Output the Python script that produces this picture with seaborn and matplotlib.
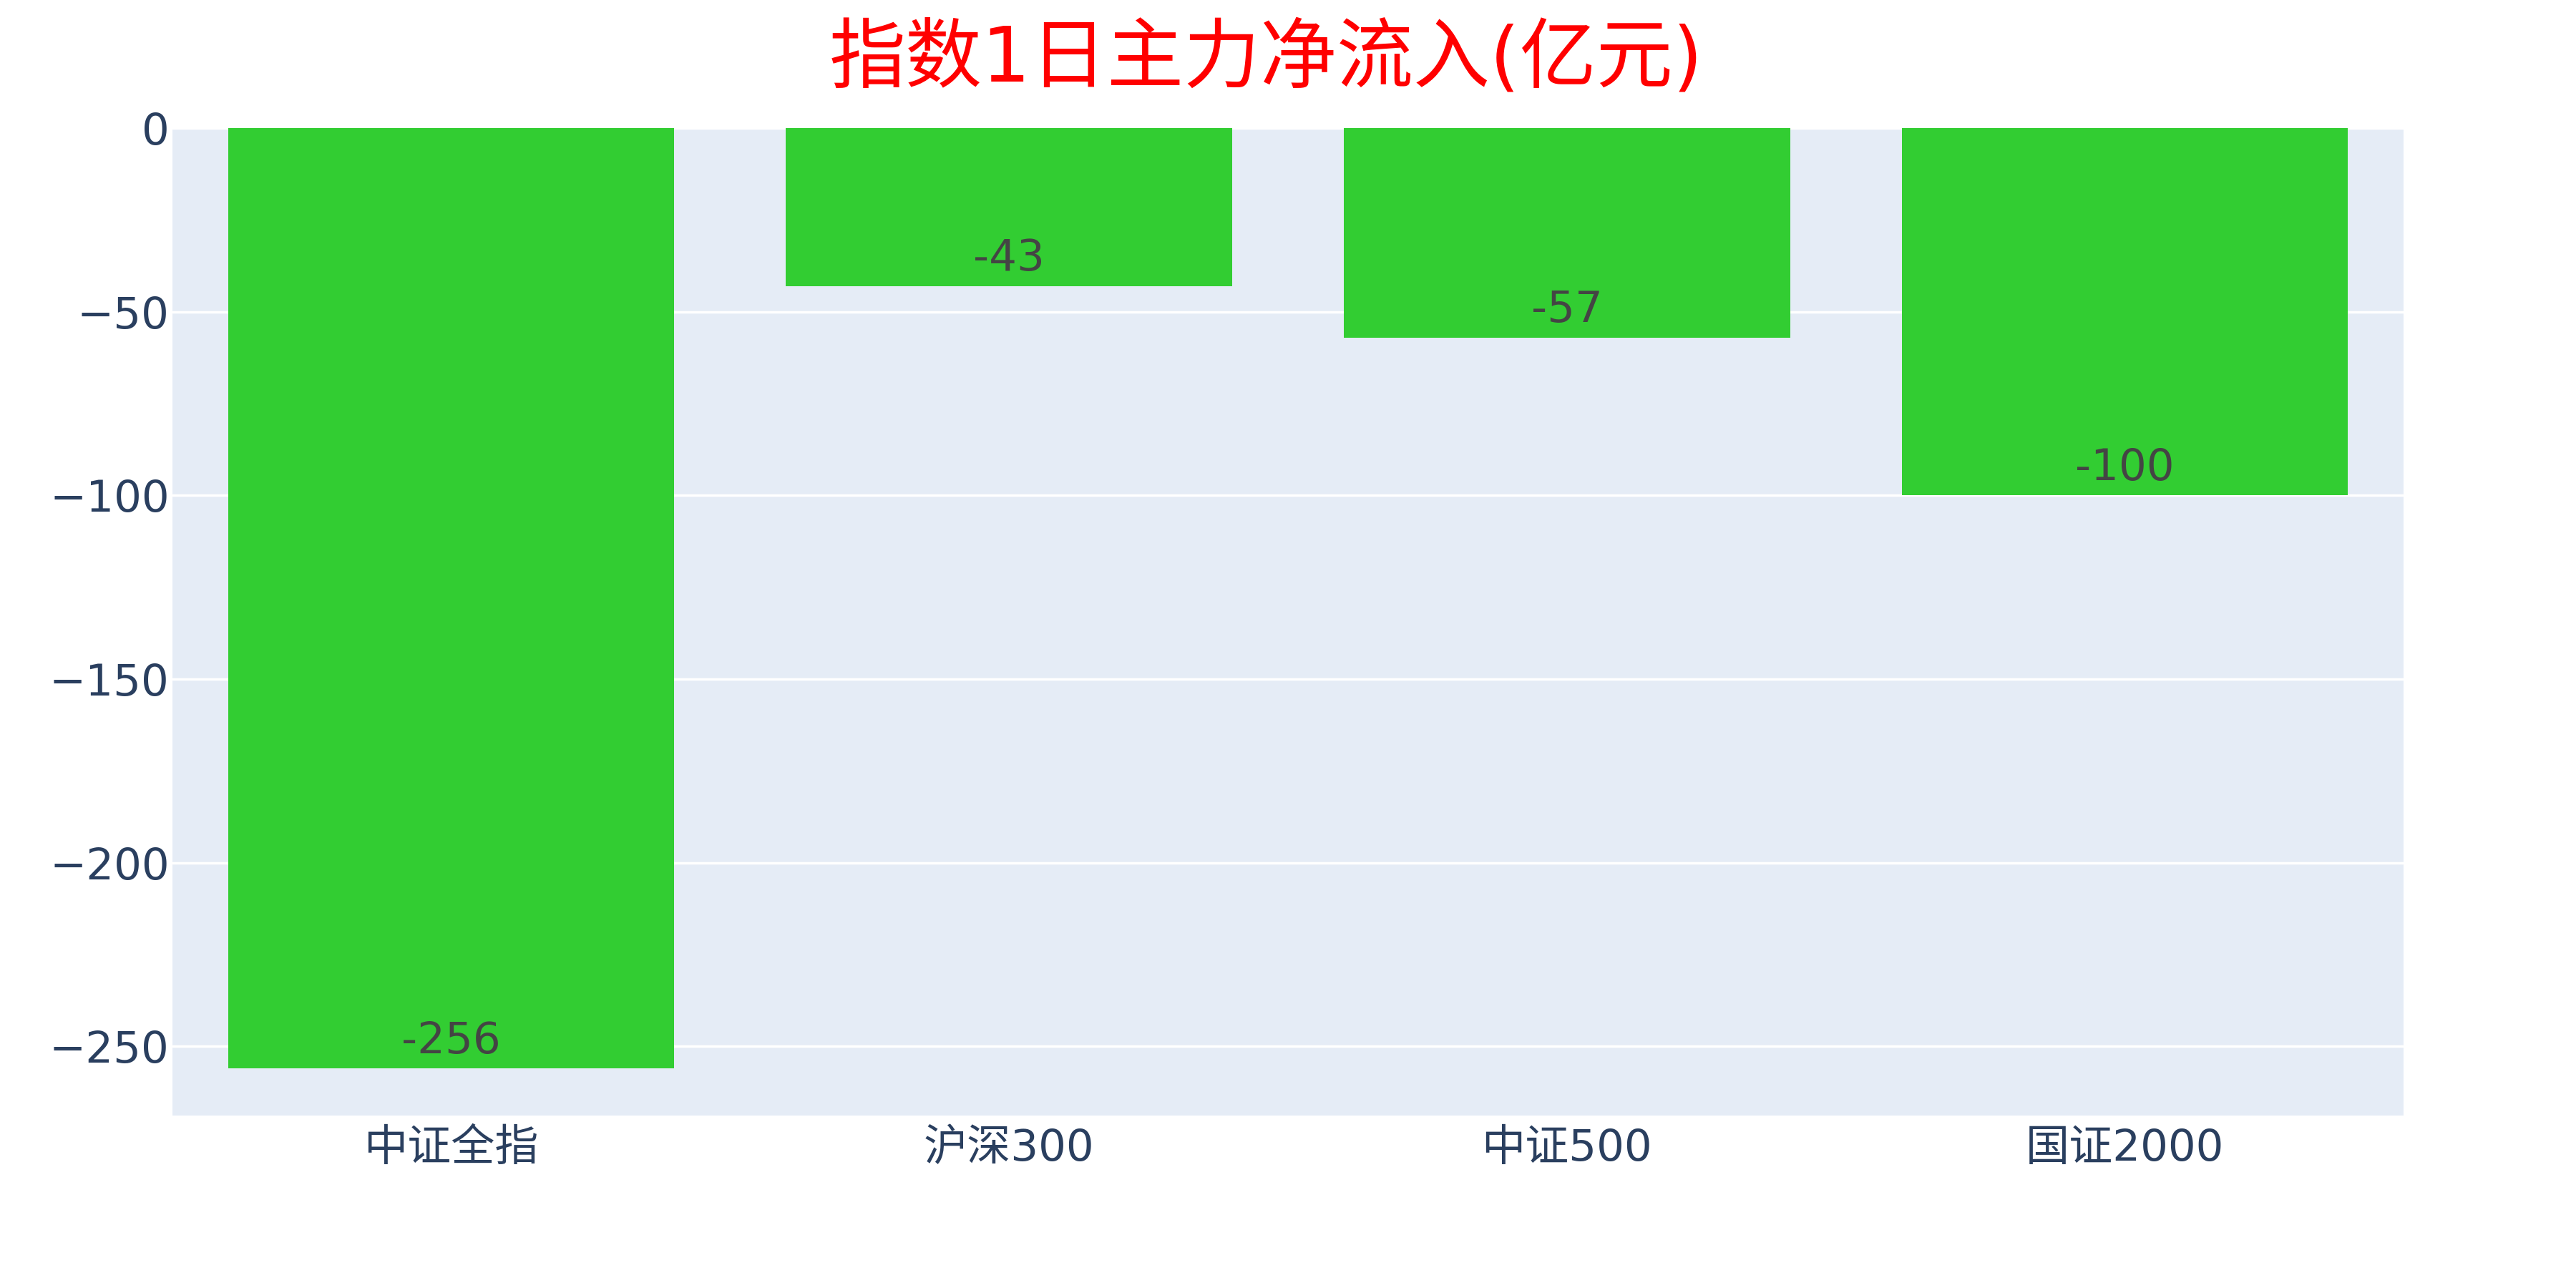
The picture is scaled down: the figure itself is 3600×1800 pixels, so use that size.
import matplotlib
matplotlib.use("Agg")
import matplotlib.pyplot as plt
import seaborn as sns
import pandas as pd

# données
indices = ["中证全指", "沪深300", "中证500", "国证2000"]
flux = [-256, -43, -57, -100]
titre = "指数1日主力净流入(亿元)"

df = pd.DataFrame({"indice": indices, "flux": flux})

sns.set_theme(style="darkgrid", rc={"axes.facecolor": "#E5ECF6", "grid.color": "white",
                                    "grid.linewidth": 2.5, "axes.edgecolor": "#E5ECF6"})
plt.rcParams["font.family"] = ["DejaVu Sans", "Noto Sans CJK SC"]
plt.rcParams["axes.unicode_minus"] = True

fig = plt.figure(figsize=(36, 18), dpi=100)
ax = fig.add_axes([0.0669, 0.1339, 0.8662, 0.7667])

sns.barplot(data=df, x="indice", y="flux", color="#32CD32", saturation=1, width=0.8,
            linewidth=0, ax=ax)

# étiquettes à l'intérieur du bout de la barre
for i, v in enumerate(flux):
    ax.annotate(str(v), xy=(i, v), xytext=(0, 6), textcoords="offset points",
                ha="center", va="bottom", fontsize=44, color="#444444")

ax.set_ylim(-268.8, 0)
ax.set_xlim(-0.5, len(indices) - 0.5)
ax.set_yticks([0, -50, -100, -150, -200, -250])
ax.grid(axis="x", visible=False)
ax.set_axisbelow(True)
ax.set_xlabel("")
ax.set_ylabel("")
ax.tick_params(axis="both", length=0, labelsize=44, labelcolor="#2a3f5f")
ax.tick_params(axis="y", pad=3)
ax.tick_params(axis="x", pad=12)
for s in ax.spines.values():
    s.set_visible(False)

fig.text(0.4914, 0.954, titre, ha="center", va="center", fontsize=77, color="red")

fig.savefig("out.png", dpi=100, facecolor="white")
